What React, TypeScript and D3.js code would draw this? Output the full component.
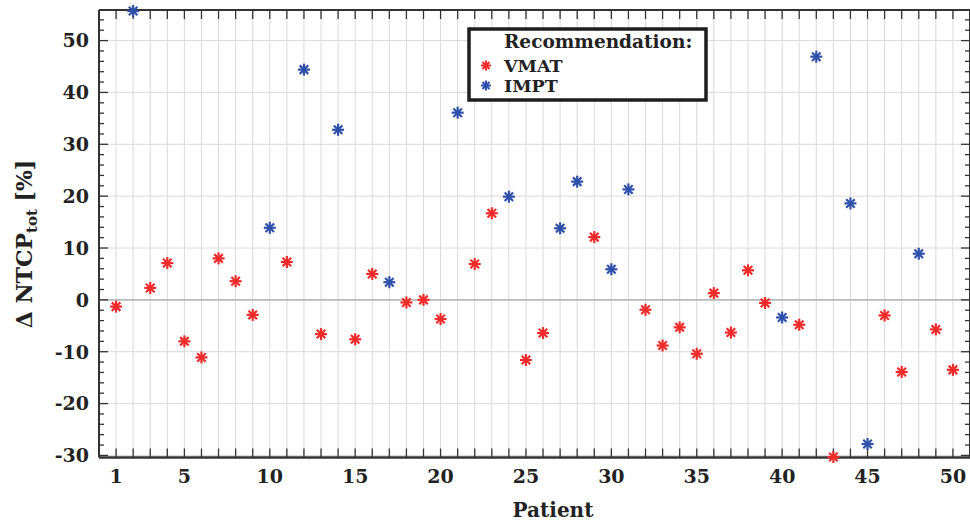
import React from "react";
import * as d3 from "d3";

const patients = d3.range(1, 51);
const deltaNTCP = [
  -1.3, 55.7, 2.3, 7.1, -8.0, -11.1, 8.0, 3.6, -2.9, 13.9,
  7.3, 44.4, -6.6, 32.8, -7.6, 5.0, 3.4, -0.5, 0.0, -3.7,
  36.1, 6.9, 16.7, 19.9, -11.6, -6.4, 13.8, 22.8, 12.1, 5.9,
  21.3, -1.9, -8.8, -5.3, -10.4, 1.3, -6.3, 5.7, -0.6, -3.4,
  -4.8, 46.9, -30.3, 18.6, -27.8, -3.0, -13.9, 8.9, -5.7, -13.5,
];
const recommendation = [
  "VMAT", "IMPT", "VMAT", "VMAT", "VMAT", "VMAT", "VMAT", "VMAT", "VMAT", "IMPT",
  "VMAT", "IMPT", "VMAT", "IMPT", "VMAT", "VMAT", "IMPT", "VMAT", "VMAT", "VMAT",
  "IMPT", "VMAT", "VMAT", "IMPT", "VMAT", "VMAT", "IMPT", "IMPT", "VMAT", "IMPT",
  "IMPT", "VMAT", "VMAT", "VMAT", "VMAT", "VMAT", "VMAT", "VMAT", "VMAT", "IMPT",
  "VMAT", "IMPT", "VMAT", "IMPT", "IMPT", "VMAT", "VMAT", "IMPT", "VMAT", "VMAT",
];
const legendItems = ["VMAT", "IMPT"];
const xTickLabels = [1, 5, 10, 15, 20, 25, 30, 35, 40, 45, 50];
const yTickLabels = [-30, -20, -10, 0, 10, 20, 30, 40, 50];

const colors: Record<string, string> = { VMAT: "#f02a2a", IMPT: "#2f50aa" };
const FONT = "'DejaVu Serif', serif";

function Asterisk({ x, y, color, r = 6, w = 2.2 }: { x: number; y: number; color: string; r?: number; w?: number }) {
  const d = r * Math.SQRT1_2;
  return (
    <g stroke={color} strokeWidth={w} strokeLinecap="butt">
      <line x1={x - r} y1={y} x2={x + r} y2={y} />
      <line x1={x} y1={y - r} x2={x} y2={y + r} />
      <line x1={x - d} y1={y - d} x2={x + d} y2={y + d} />
      <line x1={x - d} y1={y + d} x2={x + d} y2={y - d} />
    </g>
  );
}

export default function App() {
  const W = 970, H = 521;
  const left = 99, right = 970, top = 10, bottom = 457.5;
  const x = d3.scaleLinear().domain([0, 51]).range([left, right]);
  const y = d3.scaleLinear().domain([-30.4, 55.9]).range([bottom, top]);
  const xGrid = d3.range(1, 51);
  const yMinor = d3.range(-30, 56, 2);
  const axisColor = "#333";

  return (
    <div style={{ position: "fixed", left: 0, top: 0 }}>
      <svg width={W} height={H} style={{ display: "block", background: "#fff" }}>
        {/* grid */}
        {xGrid.map((v) => (
          <line key={"gx" + v} x1={x(v)} x2={x(v)} y1={top} y2={bottom} stroke="#dadada" strokeWidth={1} />
        ))}
        {yTickLabels.map((v) => (
          <line key={"gy" + v} x1={left} x2={right} y1={y(v)} y2={y(v)}
            stroke={v === 0 ? "#b8b8b8" : "#dadada"} strokeWidth={v === 0 ? 1.6 : 1} />
        ))}
        {/* ticks */}
        {xGrid.map((v) => (
          <g key={"tx" + v} stroke={axisColor} strokeWidth={1.3}>
            <line x1={x(v)} x2={x(v)} y1={top} y2={top + 9} />
            <line x1={x(v)} x2={x(v)} y1={bottom} y2={bottom - 9} />
          </g>
        ))}
        {yMinor.map((v) => {
          const major = v % 10 === 0;
          const len = major ? 9 : 5;
          return (
            <g key={"ty" + v} stroke={axisColor} strokeWidth={1.3}>
              <line x1={left} x2={left + len} y1={y(v)} y2={y(v)} />
              <line x1={right} x2={right - len} y1={y(v)} y2={y(v)} />
            </g>
          );
        })}
        {/* frame */}
        <line x1={left} x2={right} y1={top} y2={top} stroke={axisColor} strokeWidth={2} />
        <line x1={left} x2={right} y1={bottom} y2={bottom} stroke={axisColor} strokeWidth={2.5} />
        <line x1={left} x2={left} y1={top} y2={bottom} stroke={axisColor} strokeWidth={2} />
        <line x1={right} x2={right} y1={top} y2={bottom} stroke={axisColor} strokeWidth={2} />

        {/* tick labels */}
        {xTickLabels.map((v) => (
          <text key={"lx" + v} x={x(v)} y={483} textAnchor="middle" fontFamily={FONT}
            fontWeight="bold" fontSize={19} fill="#222">{v}</text>
        ))}
        {yTickLabels.map((v) => (
          <text key={"ly" + v} x={89} y={y(v)} dy="0.36em" textAnchor="end" fontFamily={FONT}
            fontWeight="bold" fontSize={19} fill="#222">{v}</text>
        ))}

        {/* axis labels */}
        <text x={553} y={517} textAnchor="middle" fontFamily={FONT} fontWeight="bold" fontSize={20} fill="#222">
          Patient
        </text>
        <text transform="translate(32,244) rotate(-90)" textAnchor="middle" fontFamily={FONT}
          fontWeight="bold" fontSize={22} fill="#222">
          <tspan>Δ NTCP</tspan>
          <tspan fontSize={15} dy={5}>tot</tspan>
          <tspan dy={-5}> [%]</tspan>
        </text>

        {/* data */}
        {patients.map((p, i) => (
          <Asterisk key={"pt" + p} x={x(p)} y={y(deltaNTCP[i])} color={colors[recommendation[i]]} />
        ))}

        {/* legend */}
        <rect x={469} y={29} width={237} height={71} fill="#fff" stroke="#1e1e1e" strokeWidth={3.5} />
        <text x={504} y={48} fontFamily={FONT} fontWeight="bold" fontSize={18.5} fill="#222">
          Recommendation:
        </text>
        {legendItems.map((name, i) => (
          <g key={"lg" + name}>
            <Asterisk x={486} y={65.5 + i * 20} color={colors[name]} r={5} w={2} />
            <text x={504} y={65.5 + i * 20} dy="0.36em" fontFamily={FONT} fontWeight="bold"
              fontSize={17.5} fill="#222">{name}</text>
          </g>
        ))}
      </svg>
    </div>
  );
}
